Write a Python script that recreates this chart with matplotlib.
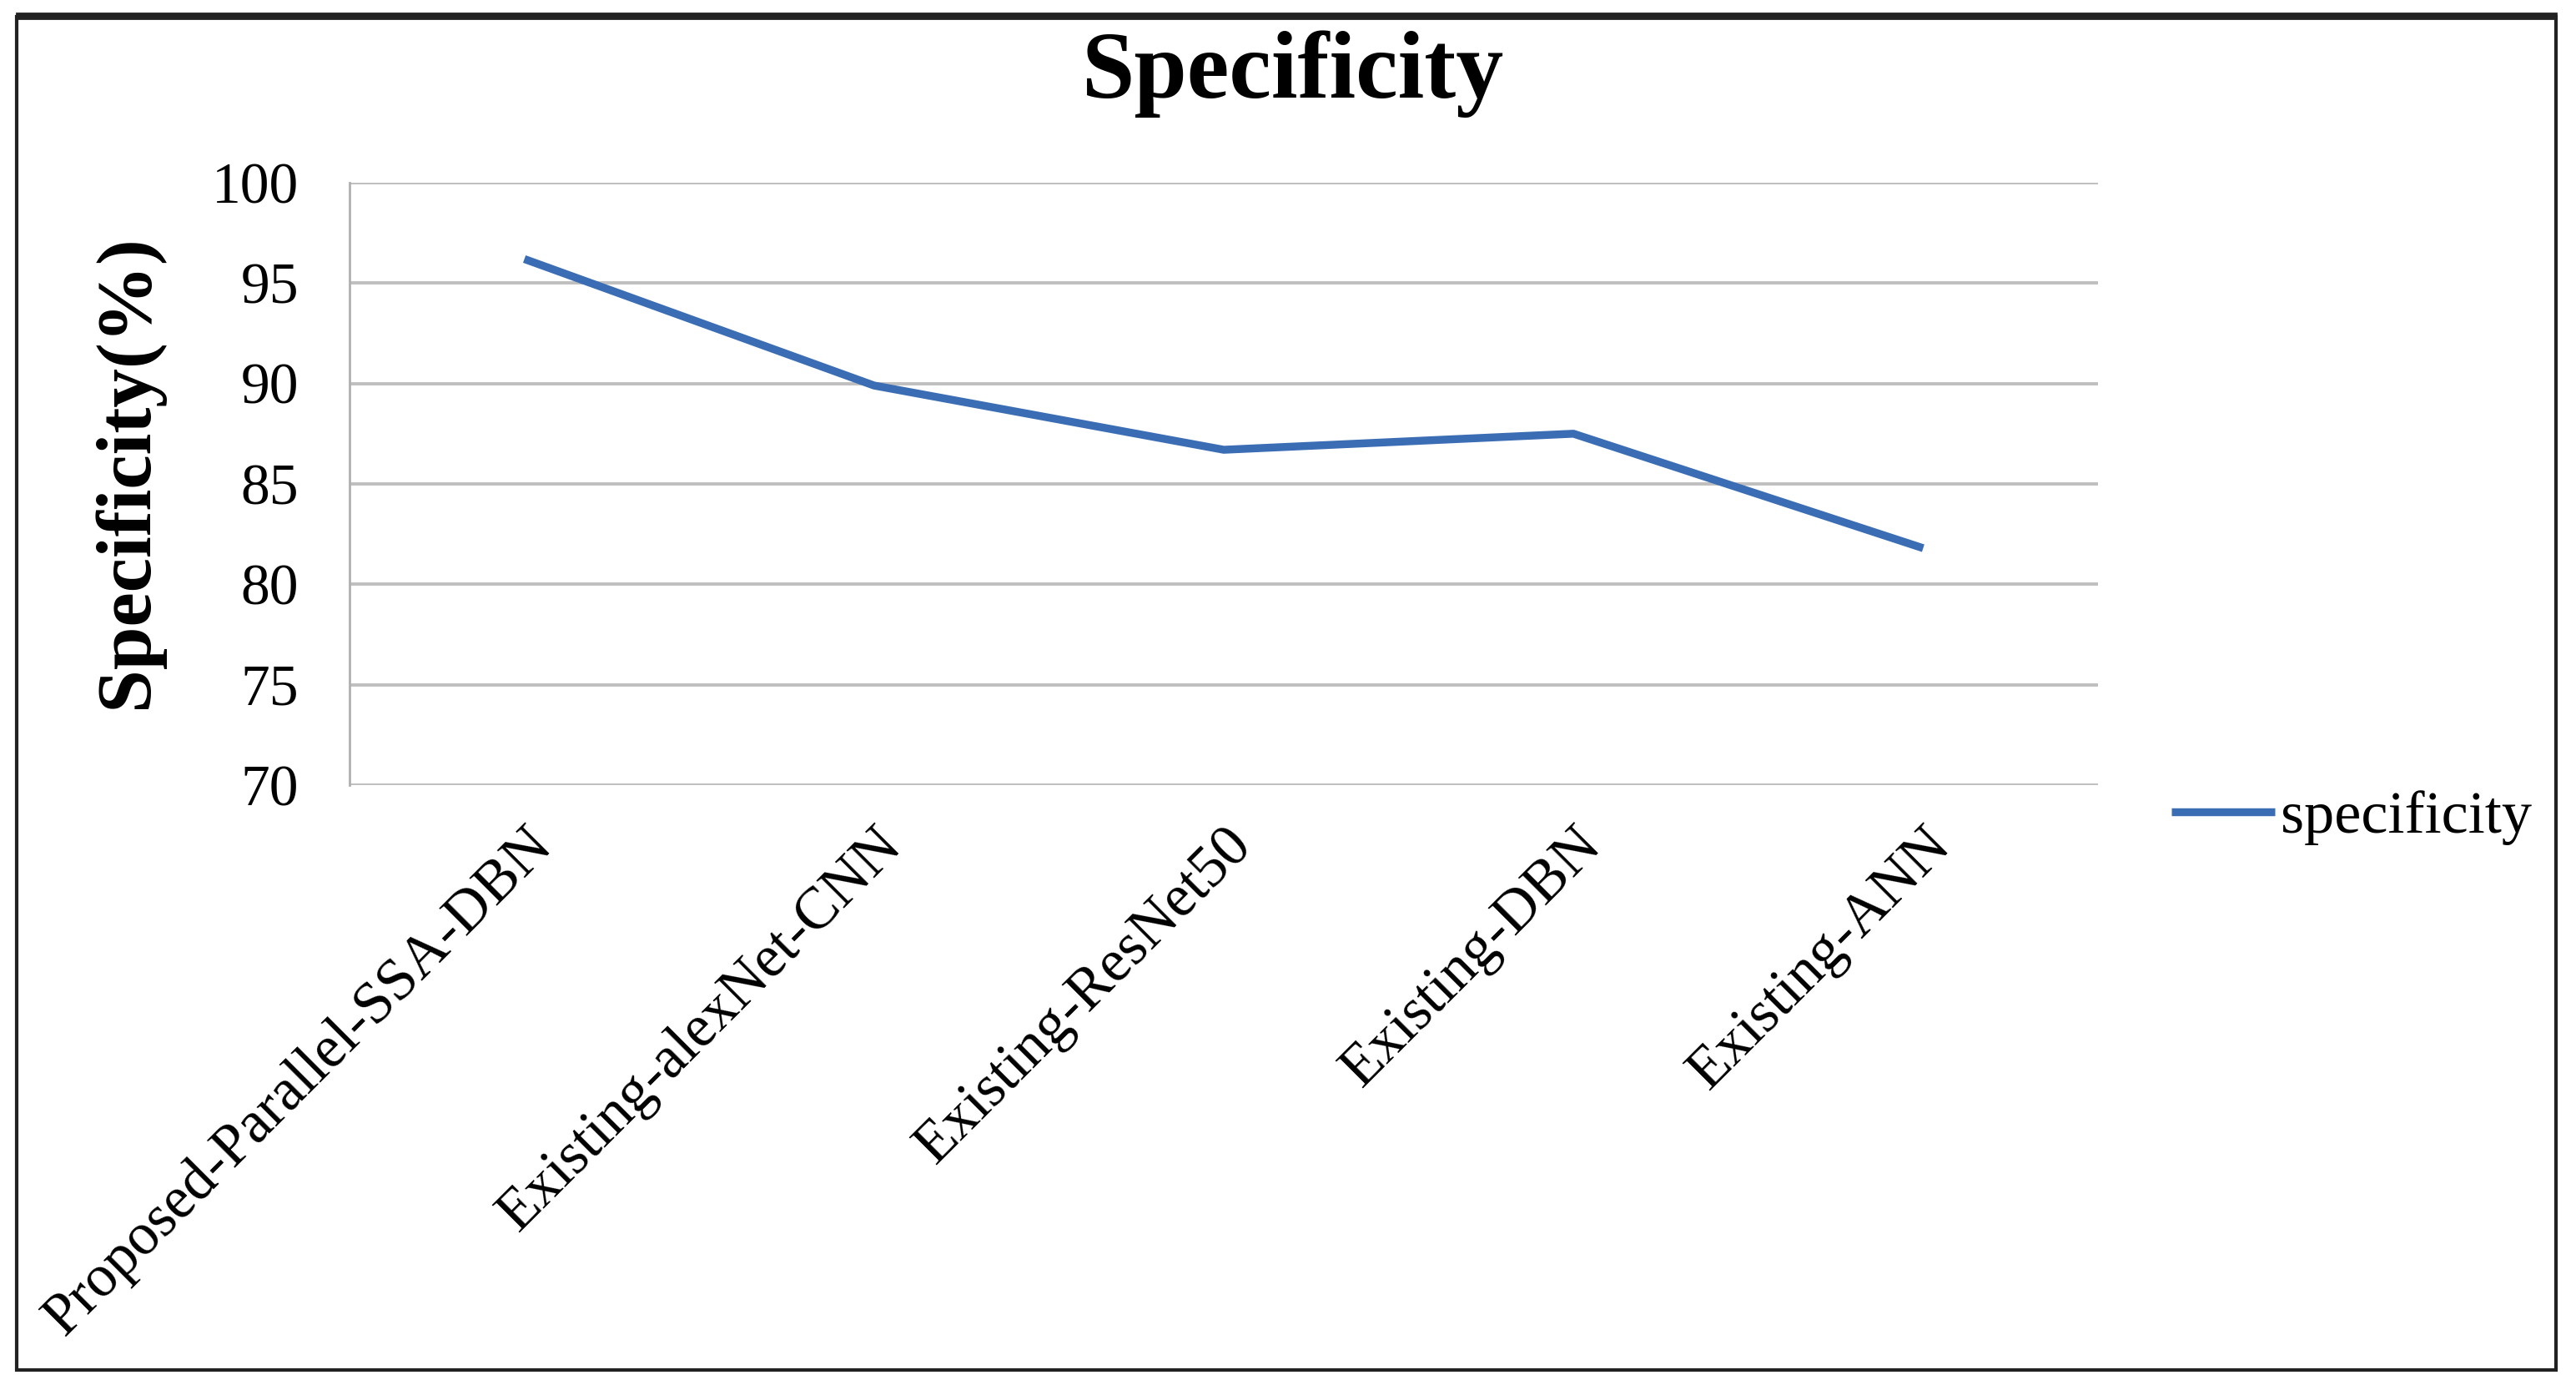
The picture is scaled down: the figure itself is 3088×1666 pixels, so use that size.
import matplotlib
matplotlib.use("Agg")
import matplotlib.pyplot as plt
from matplotlib.patches import Rectangle

methods = [
    "Proposed-Parallel-SSA-DBN",
    "Existing-alexNet-CNN",
    "Existing-ResNet50",
    "Existing-DBN",
    "Existing-ANN",
]
specificity = [96.2, 89.9, 86.7, 87.5, 81.8]
y_ticks = [70, 75, 80, 85, 90, 95, 100]

plt.rcParams["font.family"] = ["Liberation Serif", "DejaVu Serif"]

W, H, DPI = 3088, 1666, 200
fig = plt.figure(figsize=(W / DPI, H / DPI), dpi=DPI)

# plot area in pixel coords of the reference
left, right, top, bottom = 419, 2515, 219, 941
ax = fig.add_axes([left / W, 1 - bottom / H, (right - left) / W, (bottom - top) / H])

x = list(range(len(methods)))
ax.plot(x, specificity, color="#3a6db4", linewidth=3.4, label="specificity",
        solid_capstyle="butt")

ax.set_xlim(-0.5, len(methods) - 0.5)
ax.set_ylim(70, 100)
ax.set_yticks(y_ticks)
ax.set_yticklabels([str(t) for t in y_ticks], fontsize=25)
ax.set_xticks(x)
ax.set_xticklabels(methods, rotation=45, ha="right", rotation_mode="anchor",
                   fontsize=25.5)
ax.tick_params(axis="both", length=0)
ax.tick_params(axis="y", pad=22)
ax.tick_params(axis="x", pad=14)

ax.grid(axis="y", color="#bfbfbf", linewidth=1.4)
ax.set_axisbelow(True)
for side in ["top", "right", "bottom"]:
    ax.spines[side].set_visible(False)
ax.spines["left"].set_color("#b0b0b0")
ax.spines["left"].set_linewidth(1.0)

ax.set_ylabel("Specificity(%)", fontsize=33.5, fontweight="bold", va="center")
ax.yaxis.set_label_coords(-0.127, 0.521)
fig.text(787 * 1.969 / W, 1 - 45 * 1.969 / H, "Specificity", fontsize=41,
         fontweight="bold", ha="center", va="center")

ax.legend(loc="center left", bbox_to_anchor=(2603 / W, 1 - 980 / H),
          bbox_transform=fig.transFigure, frameon=False, fontsize=26,
          handlelength=1.72, handletextpad=0.1, borderpad=0, borderaxespad=0)

# outer frame of the figure
fig.patches.append(Rectangle((20 / W, 1 - 1642 / H), 3044 / W, 1622 / H,
                             transform=fig.transFigure, fill=False,
                             edgecolor="#222222", linewidth=1.5))
fig.patches.append(Rectangle((20 / W, 1 - 22 / H), 3044 / W, 6 / H,
                             transform=fig.transFigure, color="#222222"))

fig.savefig("out.png", dpi=DPI)
